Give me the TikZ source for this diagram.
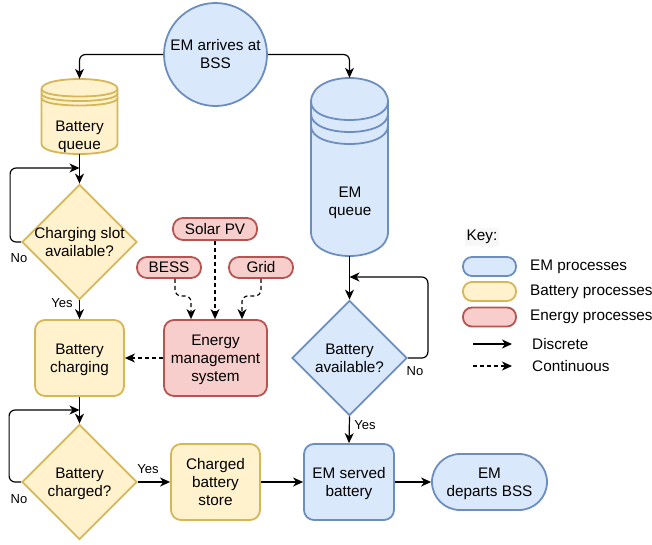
\documentclass[tikz,border=0pt]{standalone}
\usepackage{fontspec}
\setmainfont{Liberation Sans}
\usetikzlibrary{shapes.geometric,arrows.meta,calc}
\definecolor{bfill}{HTML}{DAE8FC}\definecolor{bdraw}{HTML}{6C8EBF}
\definecolor{yfill}{HTML}{FFF2CC}\definecolor{ydraw}{HTML}{D6B656}
\definecolor{rfill}{HTML}{F8CECC}\definecolor{rdraw}{HTML}{B85450}
\definecolor{keybg}{HTML}{F7F7F7}
\begin{document}
\begin{tikzpicture}[x=1pt,y=-1pt,
  font=\fontsize{15.3}{18}\selectfont,
  every node/.style={inner sep=0pt, align=center},
  bluesh/.style={fill=bfill,draw=bdraw,line width=1.8pt},
  yelsh/.style={fill=yfill,draw=ydraw,line width=1.8pt},
  redsh/.style={fill=rfill,draw=rdraw,line width=1.8pt},
  box/.style={rectangle, rounded corners=10pt, minimum width=89pt, minimum height=76pt},
  pill/.style={rectangle, rounded corners=10pt, minimum height=21pt},
  dia/.style={diamond, minimum width=115pt, minimum height=115pt},
  arr/.style={-{Stealth[length=10pt,width=9pt,inset=3pt]}, line width=1.2pt, rounded corners=6pt},
  cont/.style={arr, dash pattern=on 4pt off 3pt},
  lab/.style={font=\fontsize{13}{15}\selectfont},
  txtdown/.style={text depth=0pt},
]
\useasboundingbox (0,0) rectangle (652,544);

% arrival
\node[circle, bluesh, minimum size=103pt] (arr) at (215.5,54.5) {EM arrives at\\BSS};

% battery queue (data store)
\begin{scope}[yelsh]
\filldraw (41.5,89) .. controls (41.5,75.67) and (117.5,75.67) .. (117.5,89) -- (117.5,144)
  .. controls (117.5,157.33) and (41.5,157.33) .. (41.5,144) -- cycle;
\draw[fill=none] (41.5,89) .. controls (41.5,99) and (117.5,99) .. (117.5,89);
\draw[fill=none] (41.5,93.5) .. controls (41.5,103.5) and (117.5,103.5) .. (117.5,93.5);
\draw[fill=none] (41.5,98) .. controls (41.5,108) and (117.5,108) .. (117.5,98);
\end{scope}
\node[minimum width=76pt,minimum height=75pt] (bq) at (79.5,116.5) {};
\node[txtdown] (bqt) at (79.5,135) {Battery\\queue};

% EM queue (data store)
\begin{scope}[bluesh]
\filldraw (311,102) .. controls (311,70) and (388,70) .. (388,102) -- (388,232)
  .. controls (388,264) and (311,264) .. (311,232) -- cycle;
\draw[fill=none] (311,102) .. controls (311,126) and (388,126) .. (388,102);
\draw[fill=none] (311,114) .. controls (311,138) and (388,138) .. (388,114);
\draw[fill=none] (311,126) .. controls (311,150) and (388,150) .. (388,126);
\end{scope}
\node[minimum width=77pt,minimum height=178pt] (eq) at (349.5,167) {};
\node[txtdown] (eqt) at (350,201) {EM\\queue};

% left column
\node[dia, yelsh, label={[align=center,txtdown]center:{Charging slot\\available?}}] (d1) at (79.5,242) {};
\node[box, yelsh, txtdown] (bc) at (79.5,358) {Battery\\charging};
\node[dia, yelsh, label={[align=center,txtdown]center:{Battery\\charged?}}] (d2) at (79.5,482) {};

% energy
\node[pill, redsh, minimum width=84pt, minimum height=22pt] (spv) at (215,229) {Solar PV};
\node[pill, redsh, minimum width=64pt] (bess) at (169,267.5) {BESS};
\node[pill, redsh, minimum width=64pt] (grid) at (261,267.5) {Grid};
\node[box, redsh, minimum width=103pt, txtdown] (ems) at (215.5,358) {Energy\\management\\system};

% bottom row
\node[box, yelsh, txtdown] (cbs) at (215.5,482) {Charged\\battery\\store};
\node[dia, bluesh, label={[align=center,txtdown]center:{Battery\\available?}}] (d3) at (349.5,358) {};
\node[box, bluesh, minimum width=90pt, txtdown] (srv) at (349,482) {EM served\\battery};
\node[rectangle, rounded corners=28pt, bluesh, minimum width=115pt, minimum height=56pt, txtdown] (dep) at (489.5,482) {EM\\departs BSS};

% connectors
\draw[arr] (arr.west) -| (bq.north);
\draw[arr] (arr.east) -| (eq.north);
\draw[arr] (bq.south) -- (d1.north);
\coordinate (c1) at (79.5,168);
\draw[arr] (d1.west) -- ++(-11,0) |- (c1);
\node[lab] (no1) at (19,258) {No};
\draw[arr] (d1.south) -- (bc.north);
\node[lab] (yes1) at (62,303) {Yes};

\draw[cont] (spv.south) -- (spv.south |- ems.north);
\draw[cont] ([xshift=6pt]bess.south) -- ++(0,17) -| ([xshift=-24.5pt]ems.north);
\draw[cont] (grid.south) -- ++(0,17) -| ([xshift=26.5pt]ems.north);
\draw[cont] (ems.west) -- (bc.east);

\draw[arr] (bc.south) -- (d2.north);
\coordinate (c2) at (79.5,410);
\draw[arr] (d2.west) -- ++(-12,0) |- (c2);
\node[lab] (no2) at (19,499) {No};
\draw[arr] (d2.east) -- (cbs.west);
\node[lab] (yes2) at (148,469) {Yes};
\draw[arr] (cbs.east) -- (srv.west);

\draw[arr] (eq.south) -- (d3.north);
\coordinate (c3) at (349.5,277);
\draw[arr] (d3.east) -- ++(20,0) |- (c3);
\node[lab] (no3) at (415,371) {No};
\draw[arr] (d3.south) -- (srv.north);
\node[lab] (yes3) at (365,425) {Yes};
\draw[arr] (srv.east) -- (dep.west);

% key
\node[fill=keybg, inner sep=2pt] (key) at (482,237) {Key:};
\node[pill, bluesh, minimum width=53pt, minimum height=19pt, rounded corners=9pt] (k1) at (489.5,266.5) {};
\node[pill, yelsh, minimum width=53pt, minimum height=19pt, rounded corners=9pt] (k2) at (489.5,291.5) {};
\node[pill, redsh, minimum width=53pt, minimum height=19pt, rounded corners=9pt] (k3) at (489.5,317) {};
\node[anchor=west] (k1t) at (530,266.5) {EM processes};
\node[anchor=west] (k2t) at (530,291.5) {Battery processes};
\node[anchor=west] (k3t) at (530,317) {Energy processes};
\coordinate (ka1) at (473,344); \coordinate (kb1) at (512,344);
\coordinate (ka2) at (473,366); \coordinate (kb2) at (512,366);
\draw[arr] (ka1) -- (kb1);
\draw[cont] (ka2) -- (kb2);
\node[anchor=west] (k4t) at (532,344) {Discrete};
\node[anchor=west] (k5t) at (532,366) {Continuous};
\end{tikzpicture}
\end{document}
